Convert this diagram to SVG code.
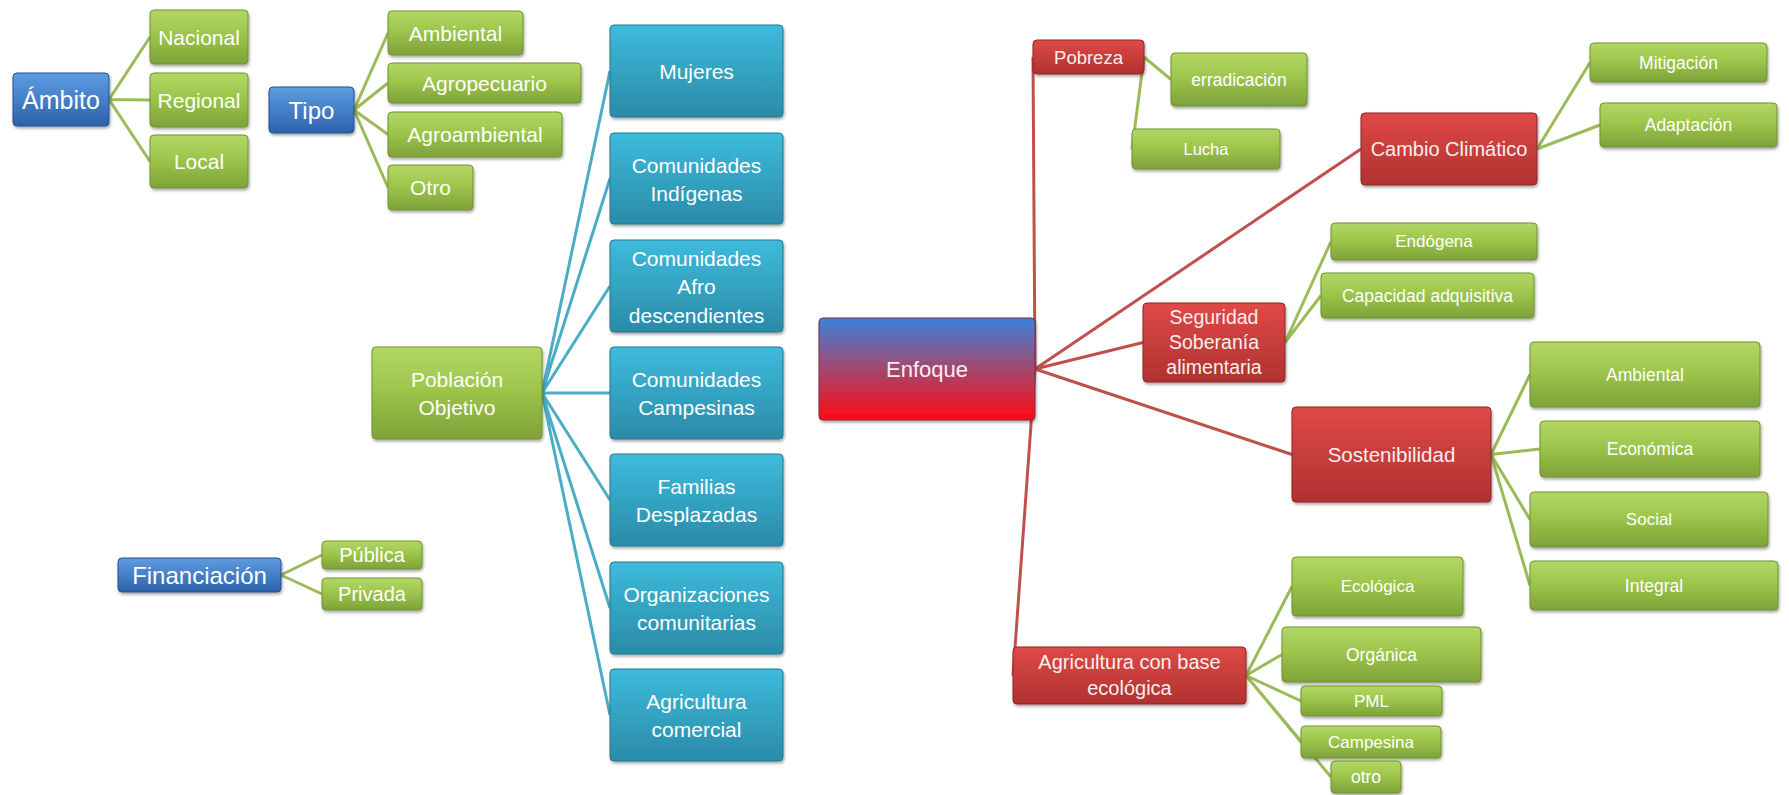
<svg xmlns="http://www.w3.org/2000/svg" width="1789" height="795" viewBox="0 0 1789 795">
<defs>
<linearGradient id="gG" x1="0" y1="0" x2="0" y2="1"><stop offset="0" stop-color="#b3d766"/><stop offset="0.45" stop-color="#9dc64b"/><stop offset="1" stop-color="#7ea23a"/></linearGradient>
<linearGradient id="gB" x1="0" y1="0" x2="0" y2="1"><stop offset="0" stop-color="#5f9de2"/><stop offset="1" stop-color="#2c61ab"/></linearGradient>
<linearGradient id="gC" x1="0" y1="0" x2="0" y2="1"><stop offset="0" stop-color="#3ebbdc"/><stop offset="1" stop-color="#2a8ba8"/></linearGradient>
<linearGradient id="gR" x1="0" y1="0" x2="0" y2="1"><stop offset="0" stop-color="#df4947"/><stop offset="1" stop-color="#b03131"/></linearGradient>
<linearGradient id="gE" x1="0" y1="0" x2="0" y2="1"><stop offset="0" stop-color="#3a82dc"/><stop offset="0.5" stop-color="#a3486f"/><stop offset="1" stop-color="#ff0a14"/></linearGradient>
<filter id="sh" x="-10%" y="-10%" width="130%" height="140%"><feDropShadow dx="1" dy="2" stdDeviation="1.5" flood-color="#000" flood-opacity="0.35"/></filter>
</defs>
<style>
rect{filter:url(#sh);rx:4px;ry:4px;stroke-width:1}
.g{fill:url(#gG);stroke:#71922f}
.b{fill:url(#gB);stroke:#24508f}
.c{fill:url(#gC);stroke:#23788f}
.r{fill:url(#gR);stroke:#8e2626}
.e{fill:url(#gE);stroke:#7a2a4a}
text{font-family:"Liberation Sans",Arial,sans-serif;fill:#ffffff;text-anchor:middle;dominant-baseline:central}
.rt{fill:#f7eeee}
.cg path{fill:none;stroke:#9bbb59;stroke-width:3}
.cc path{fill:none;stroke:#4bacc6;stroke-width:3}
.cr path{fill:none;stroke:#c0504d;stroke-width:3}
</style>
<rect width="1789" height="795" fill="#ffffff" style="filter:none"/>
<g id="connectors">
<g class="cg">
<path d="M109,99.5L150,37M109,99.5L150,100M109,99.5L150,161.5"/>
<path d="M354,110L388,33M354,110L388,83M354,110L388,134.5M354,110L388,187.5"/>
<path d="M281,575L322,555M281,575L322,594"/>
<path d="M1144,57L1171,79.5M1144,57L1132,149"/>
<path d="M1537,149L1590,62.5M1537,149L1600,125"/>
<path d="M1285,342.5L1331,241.5M1285,342.5L1321,295.5"/>
<path d="M1491,454.5L1530,374.5M1491,454.5L1540,449M1491,454.5L1530,519.5M1491,454.5L1530,585.5"/>
<path d="M1246,675.5L1292,586.5M1246,675.5L1282,654.5M1246,675.5L1301,701M1246,675.5L1301,742M1246,675.5L1331,777"/>
</g>
<g class="cc">
<path d="M542,393L610,71M542,393L610,178.5M542,393L610,286M542,393L610,393M542,393L610,500M542,393L610,608M542,393L610,715"/>
</g>
<g class="cr">
<path d="M1035,369L1033,57M1035,369L1361,149M1035,369L1143,342.5M1035,369L1292,454.5M1035,369L1013,675.5"/>
</g>
</g>
<g id="ambito"><rect class="b" x="13" y="73" width="96" height="53"/><text x="61" y="99.5" font-size="25">Ámbito</text></g>
<g id="nacional"><rect class="g" x="150" y="10" width="98" height="54"/><text x="199" y="37" font-size="21">Nacional</text></g>
<g id="regional"><rect class="g" x="150" y="73" width="98" height="54"/><text x="199" y="100" font-size="21">Regional</text></g>
<g id="local"><rect class="g" x="150" y="135" width="98" height="53"/><text x="199" y="161.5" font-size="21">Local</text></g>
<g id="tipo"><rect class="b" x="269" y="87" width="85" height="46"/><text x="311.5" y="110" font-size="24">Tipo</text></g>
<g id="tipo-ambiental"><rect class="g" x="388" y="11" width="135" height="44"/><text x="455.5" y="33" font-size="21">Ambiental</text></g>
<g id="agropecuario"><rect class="g" x="388" y="63" width="193" height="40"/><text x="484.5" y="83" font-size="21">Agropecuario</text></g>
<g id="agroambiental"><rect class="g" x="388" y="112" width="174" height="45"/><text x="475" y="134.5" font-size="21">Agroambiental</text></g>
<g id="tipo-otro"><rect class="g" x="388" y="165" width="85" height="45"/><text x="430.5" y="187.5" font-size="21">Otro</text></g>
<g id="poblacion"><rect class="g" x="372" y="347" width="170" height="92"/><text font-size="21"><tspan x="457" y="379">Población</tspan><tspan x="457" y="407">Objetivo</tspan></text></g>
<g id="mujeres"><rect class="c" x="610" y="25" width="173" height="92"/><text x="696.5" y="71" font-size="21">Mujeres</text></g>
<g id="indigenas"><rect class="c" x="610" y="133" width="173" height="91"/><text font-size="21"><tspan x="696.5" y="164.5">Comunidades</tspan><tspan x="696.5" y="192.5">Indígenas</tspan></text></g>
<g id="afro"><rect class="c" x="610" y="240" width="173" height="92"/><text font-size="21"><tspan x="696.5" y="257.5">Comunidades</tspan><tspan x="696.5" y="286">Afro</tspan><tspan x="696.5" y="314.5">descendientes</tspan></text></g>
<g id="campesinas"><rect class="c" x="610" y="347" width="173" height="92"/><text font-size="21"><tspan x="696.5" y="379">Comunidades</tspan><tspan x="696.5" y="407">Campesinas</tspan></text></g>
<g id="familias"><rect class="c" x="610" y="454" width="173" height="92"/><text font-size="21"><tspan x="696.5" y="486">Familias</tspan><tspan x="696.5" y="514">Desplazadas</tspan></text></g>
<g id="organizaciones"><rect class="c" x="610" y="562" width="173" height="92"/><text font-size="21"><tspan x="696.5" y="594">Organizaciones</tspan><tspan x="696.5" y="622">comunitarias</tspan></text></g>
<g id="agricultura-comercial"><rect class="c" x="610" y="669" width="173" height="92"/><text font-size="21"><tspan x="696.5" y="701">Agricultura</tspan><tspan x="696.5" y="729">comercial</tspan></text></g>
<g id="financiacion"><rect class="b" x="118" y="558" width="163" height="34"/><text x="199.5" y="575" font-size="24">Financiación</text></g>
<g id="publica"><rect class="g" x="322" y="541" width="100" height="28"/><text x="372" y="555" font-size="20">Pública</text></g>
<g id="privada"><rect class="g" x="322" y="578" width="100" height="32"/><text x="372" y="594" font-size="20">Privada</text></g>
<g id="enfoque"><rect class="e" x="819" y="318" width="216" height="102"/><text x="927" y="369" font-size="22" class="rt">Enfoque</text></g>
<g id="pobreza"><rect class="r" x="1033" y="40" width="111" height="34"/><text x="1088.5" y="57" font-size="18.5" class="rt">Pobreza</text></g>
<g id="erradicacion"><rect class="g" x="1171" y="53" width="136" height="53"/><text x="1239" y="79.5" font-size="17.5">erradicación</text></g>
<g id="lucha"><rect class="g" x="1132" y="129" width="148" height="40"/><text x="1206" y="149" font-size="16.5">Lucha</text></g>
<g id="cambio"><rect class="r" x="1361" y="113" width="176" height="72"/><text x="1449" y="149" font-size="20" class="rt">Cambio Climático</text></g>
<g id="mitigacion"><rect class="g" x="1590" y="43" width="177" height="39"/><text x="1678.5" y="62.5" font-size="17.5">Mitigación</text></g>
<g id="adaptacion"><rect class="g" x="1600" y="103" width="177" height="44"/><text x="1688.5" y="125" font-size="17.5">Adaptación</text></g>
<g id="seguridad"><rect class="r" x="1143" y="303" width="142" height="79"/><text font-size="19.5" class="rt"><tspan x="1214" y="316.5">Seguridad</tspan><tspan x="1214" y="341.5">Soberanía</tspan><tspan x="1214" y="366.5">alimentaria</tspan></text></g>
<g id="endogena"><rect class="g" x="1331" y="223" width="206" height="37"/><text x="1434" y="241.5" font-size="17">Endógena</text></g>
<g id="capacidad"><rect class="g" x="1321" y="273" width="213" height="45"/><text x="1427.5" y="295.5" font-size="17.5">Capacidad adquisitiva</text></g>
<g id="sostenibilidad"><rect class="r" x="1292" y="407" width="199" height="95"/><text x="1391.5" y="454.5" font-size="20.5" class="rt">Sostenibilidad</text></g>
<g id="s-ambiental"><rect class="g" x="1530" y="342" width="230" height="65"/><text x="1645" y="374.5" font-size="17.5">Ambiental</text></g>
<g id="economica"><rect class="g" x="1540" y="421" width="220" height="56"/><text x="1650" y="449" font-size="17.5">Económica</text></g>
<g id="social"><rect class="g" x="1530" y="492" width="238" height="55"/><text x="1649" y="519.5" font-size="17">Social</text></g>
<g id="integral"><rect class="g" x="1530" y="561" width="248" height="49"/><text x="1654" y="585.5" font-size="17.5">Integral</text></g>
<g id="agricultura-ecologica"><rect class="r" x="1013" y="647" width="233" height="57"/><text font-size="20" class="rt"><tspan x="1129.5" y="662">Agricultura con base</tspan><tspan x="1129.5" y="688">ecológica</tspan></text></g>
<g id="ecologica"><rect class="g" x="1292" y="557" width="171" height="59"/><text x="1377.5" y="586.5" font-size="17">Ecológica</text></g>
<g id="organica"><rect class="g" x="1282" y="627" width="199" height="55"/><text x="1381.5" y="654.5" font-size="17.5">Orgánica</text></g>
<g id="pml"><rect class="g" x="1301" y="686" width="141" height="30"/><text x="1371.5" y="701" font-size="17">PML</text></g>
<g id="campesina"><rect class="g" x="1301" y="726" width="140" height="32"/><text x="1371" y="742" font-size="17">Campesina</text></g>
<g id="otro"><rect class="g" x="1331" y="761" width="70" height="32"/><text x="1366" y="777" font-size="17.5">otro</text></g>
</svg>
